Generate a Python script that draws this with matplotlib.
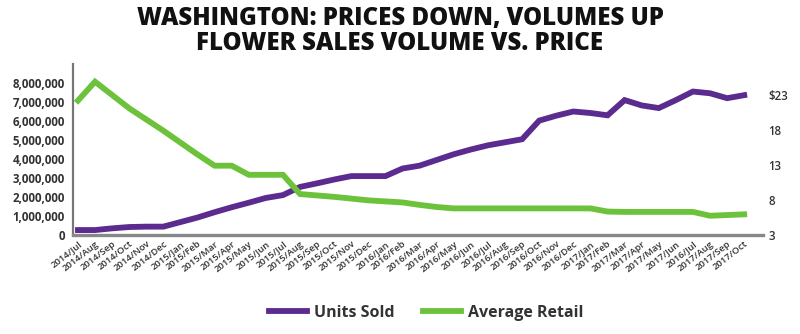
import matplotlib
matplotlib.use("Agg")
import matplotlib.pyplot as plt
from matplotlib.ticker import FuncFormatter

months = ["2014/Jul", "2014/Aug", "2014/Sep", "2014/Oct", "2014/Nov", "2014/Dec",
          "2015/Jan", "2015/Feb", "2015/Mar", "2015/Apr", "2015/May", "2015/Jun",
          "2015/Jul", "2015/Aug", "2015/Sep", "2015/Oct", "2015/Nov", "2015/Dec",
          "2016/Jan", "2016/Feb", "2016/Mar", "2016/Apr", "2016/May", "2016/Jun",
          "2016/Jul", "2016/Aug", "2016/Sep", "2016/Oct", "2016/Nov", "2016/Dec",
          "2017/Jan", "2017/Feb", "2017/Mar", "2017/Apr", "2017/May", "2017/Jun",
          "2016/Jul", "2017/Aug", "2017/Sep", "2017/Oct"]

units_sold = [260000, 260000, 350000, 420000, 440000, 440000,
              680000, 920000, 1200000, 1460000, 1700000, 1950000,
              2100000, 2530000, 2720000, 2920000, 3100000, 3100000,
              3100000, 3500000, 3650000, 3950000, 4250000, 4500000,
              4720000, 4880000, 5040000, 6020000, 6280000, 6500000,
              6420000, 6300000, 7100000, 6820000, 6680000, 7100000,
              7550000, 7460000, 7200000, 7360000]

avg_retail = [22.2, 24.9, 23.0, 21.1, 19.5, 17.9,
              16.2, 14.5, 12.9, 12.9, 11.6, 11.6,
              11.6, 8.85, 8.65, 8.45, 8.2, 7.95,
              7.8, 7.65, 7.3, 7.0, 6.8, 6.8,
              6.8, 6.8, 6.8, 6.8, 6.8, 6.8,
              6.8, 6.35, 6.3, 6.3, 6.3, 6.3,
              6.3, 5.75, 5.85, 5.95]

left_ticks = [0, 1000000, 2000000, 3000000, 4000000, 5000000, 6000000, 7000000, 8000000]
right_ticks = [3, 8, 13, 18, 23]
right_labels = ["3", "8", "13", "18", "$23"]

PURPLE = "#5b2b8f"
GREEN = "#6cc23a"
TXT = "#333333"

fig = plt.figure(figsize=(8.0, 3.34), dpi=100)
ax = fig.add_axes([73/800, 1 - 235/334, 690/800, 171/334])
ax2 = ax.twinx()

x = list(range(len(months)))
l1, = ax.plot(x, units_sold, color=PURPLE, lw=4.2, solid_joinstyle="miter", label="Units Sold", zorder=3)
l2, = ax2.plot(x, avg_retail, color=GREEN, lw=4.2, solid_joinstyle="miter", label="Average Retail", zorder=3)

ax.set_xlim(-0.29, 40.1)
ax.set_ylim(0, 9000000)
ax2.set_ylim(3, 3 + 171/7)

ax.set_yticks(left_ticks)
ax.yaxis.set_major_formatter(FuncFormatter(lambda v, p: "0" if v == 0 else f"{int(v):,}"))
ax2.set_yticks(right_ticks)
ax2.set_yticklabels(right_labels)

ax.set_xticks(x)
ax.set_xticklabels(months, rotation=38, ha="right", rotation_mode="anchor",
                   fontsize=6.8, color=TXT, family="Open Sans", fontweight="semibold")

for lab in ax.get_yticklabels():
    lab.set_family("Open Sans"); lab.set_fontweight("bold"); lab.set_fontsize(8.3); lab.set_color(TXT)
for lab in ax2.get_yticklabels():
    lab.set_family("Open Sans"); lab.set_fontweight("semibold"); lab.set_fontsize(8.3); lab.set_color(TXT)

ax.tick_params(axis="both", length=0)
ax.tick_params(axis="y", pad=6)
ax.tick_params(axis="x", pad=3)
ax2.tick_params(axis="y", length=0, pad=4)

for a in (ax, ax2):
    for s in ("top", "right"):
        a.spines[s].set_visible(False)
ax2.spines["left"].set_visible(False)
ax2.spines["bottom"].set_visible(False)
ax.spines["left"].set_color("#777777")
ax.spines["left"].set_linewidth(1.6)
ax.spines["bottom"].set_color("#888888")
ax.spines["bottom"].set_linewidth(2.4)
ax.spines["left"].set_bounds(0, 9000000)

fig.text(0.5, 1 - 19/334, "WASHINGTON: PRICES DOWN, VOLUMES UP", ha="center", va="center",
         fontsize=17.3, fontweight="extra bold", family="Open Sans", color="#111111")
fig.text(0.5, 1 - 44/334, "FLOWER SALES VOLUME VS. PRICE", ha="center", va="center",
         fontsize=17.3, fontweight="extra bold", family="Open Sans", color="#111111")

leg = fig.legend([l1, l2], ["Units Sold", "Average Retail"], loc="center",
                 bbox_to_anchor=(426/800, 1 - 313/334), ncol=2, frameon=False,
                 handlelength=2.4, columnspacing=1.8, handletextpad=0.4,
                 prop={"family": "Open Sans", "weight": "bold", "size": 11.5})
for t in leg.get_texts():
    t.set_color(TXT)

fig.savefig("out.png", dpi=100)
